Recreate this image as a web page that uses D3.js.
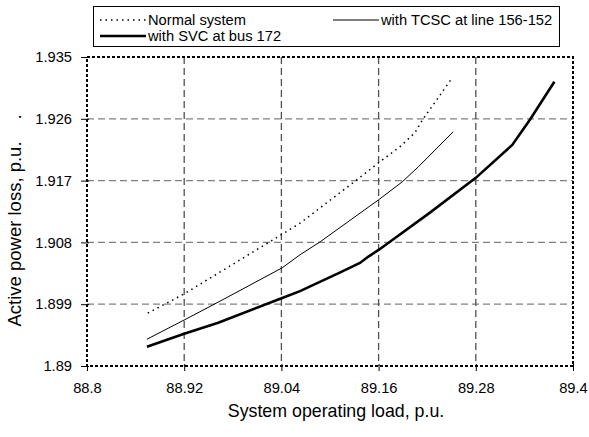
<!DOCTYPE html>
<html>
<head>
<meta charset="utf-8">
<script src="https://cdn.jsdelivr.net/npm/d3@7"></script>
<style>
  body { margin: 0; background: #fff; }
  svg { font-family: "Liberation Sans", Arial, sans-serif; }
</style>
</head>
<body>
<div id="chart"></div>
<script>
// tick labels
const xTicks = [88.8, 88.92, 89.04, 89.16, 89.28, 89.4];
const yTicks = [1.89, 1.899, 1.908, 1.917, 1.926, 1.935];

// Normal system
const loadNormal = [88.875, 88.92, 89.041, 89.063, 89.133, 89.16, 89.186, 89.205, 89.215, 89.232, 89.251];
const lossNormal = [1.8977, 1.9005, 1.9092, 1.9108, 1.9171, 1.9196, 1.9219, 1.9240, 1.9260, 1.9288, 1.9320];

// with TCSC at line 156-152
const loadTcsc = [88.874, 88.92, 88.962, 89.041, 89.063, 89.088, 89.16, 89.189, 89.209, 89.252];
const lossTcsc = [1.8939, 1.8967, 1.8993, 1.9043, 1.9062, 1.9081, 1.9142, 1.9168, 1.9190, 1.9241];

// with SVC at bus 172
const loadSvc = [88.874, 88.92, 88.962, 89.041, 89.063, 89.112, 89.137, 89.147, 89.16, 89.174, 89.223, 89.28, 89.325, 89.347, 89.377];
const lossSvc = [1.8928, 1.8947, 1.8963, 1.8999, 1.9009, 1.9036, 1.9050, 1.9059, 1.9069, 1.9081, 1.9123, 1.9174, 1.9222, 1.9259, 1.9314];

const width = 589, height = 437;
const plot = { left: 87, right: 573, top: 57, bottom: 366 };

const svg = d3.select('#chart').append('svg')
  .attr('width', width)
  .attr('height', height);

const x = d3.scaleLinear().domain([88.8, 89.4]).range([plot.left, plot.right]);
const y = d3.scaleLinear().domain([1.89, 1.935]).range([plot.bottom, plot.top]);

// grid lines
svg.append('g')
  .selectAll('line')
  .data(yTicks.slice(1, -1))
  .enter()
  .append('line')
  .attr('x1', plot.left).attr('x2', plot.right)
  .attr('y1', d => y(d)).attr('y2', d => y(d))
  .attr('stroke', '#808080')
  .attr('stroke-width', 1.3)
  .attr('stroke-dasharray', '7,4');

svg.append('g')
  .selectAll('line')
  .data(xTicks.slice(1, -1))
  .enter()
  .append('line')
  .attr('x1', d => x(d)).attr('x2', d => x(d))
  .attr('y1', plot.top).attr('y2', plot.bottom)
  .attr('stroke', '#505050')
  .attr('stroke-width', 1.3)
  .attr('stroke-dasharray', '7,4');

// plot frame (dotted)
svg.append('rect')
  .attr('x', plot.left).attr('y', plot.top)
  .attr('width', plot.right - plot.left)
  .attr('height', plot.bottom - plot.top)
  .attr('fill', 'none')
  .attr('stroke', '#000')
  .attr('stroke-width', 2)
  .attr('stroke-dasharray', '3,2');

// axes
const xAxis = svg.append('g')
  .attr('transform', `translate(0,${plot.bottom})`)
  .call(d3.axisBottom(x).tickValues(xTicks).tickFormat(d => String(d)).tickSize(5).tickPadding(12));
xAxis.select('.domain').remove();
xAxis.selectAll('.tick line').attr('y1', -2).attr('stroke', '#000');
xAxis.selectAll('text')
  .style('font-size', '14.7px')
  .style('font-family', '"Liberation Sans", Arial, sans-serif')
  .attr('fill', '#000');

const yAxis = svg.append('g')
  .attr('transform', `translate(${plot.left},0)`)
  .call(d3.axisLeft(y).tickValues(yTicks).tickFormat(d => String(d)).tickSize(6).tickPadding(9));
yAxis.select('.domain').remove();
yAxis.selectAll('.tick line').attr('x1', 2).attr('stroke', '#000');
yAxis.selectAll('text')
  .style('font-size', '14.7px')
  .style('font-family', '"Liberation Sans", Arial, sans-serif')
  .attr('fill', '#000');

// axis titles
svg.append('text')
  .attr('x', (plot.left + plot.right) / 2 + 6)
  .attr('y', 417)
  .attr('text-anchor', 'middle')
  .style('font-size', '17.8px')
  .text('System operating load, p.u.');

svg.append('text')
  .attr('transform', 'rotate(-90)')
  .attr('x', -234)
  .attr('y', 21)
  .attr('text-anchor', 'middle')
  .style('font-size', '18.5px')
  .text('Active power loss, p.u.');

svg.append('text')
  .attr('transform', 'rotate(-90)')
  .attr('x', -117)
  .attr('y', 21)
  .attr('text-anchor', 'middle')
  .style('font-size', '18.5px')
  .text('.');

// series
const series = [
  { name: 'Normal system', load: loadNormal, loss: lossNormal, width: 1.5, dash: '1.5,4' },
  { name: 'with TCSC at line 156-152', load: loadTcsc, loss: lossTcsc, width: 1, dash: null },
  { name: 'with SVC at bus 172', load: loadSvc, loss: lossSvc, width: 2.6, dash: null }
];

const line = d3.line()
  .x(d => x(d[0]))
  .y(d => y(d[1]));

series.forEach(s => {
  svg.append('path')
    .datum(s.load.map((v, i) => [v, s.loss[i]]))
    .attr('d', line)
    .attr('fill', 'none')
    .attr('stroke', '#000')
    .attr('stroke-width', s.width)
    .attr('stroke-dasharray', s.dash);
});

// legend
const legend = svg.append('g');
legend.append('rect')
  .attr('x', 93.5).attr('y', 6.5)
  .attr('width', 466).attr('height', 40)
  .attr('fill', '#fff')
  .attr('stroke', '#000')
  .attr('stroke-width', 1);

const legendPos = [
  { x: 100, y: 20 },
  { x: 333, y: 20 },
  { x: 100, y: 36 }
];

series.forEach((s, i) => {
  const p = legendPos[i];
  legend.append('line')
    .attr('x1', p.x).attr('x2', p.x + 46)
    .attr('y1', p.y).attr('y2', p.y)
    .attr('stroke', '#000')
    .attr('stroke-width', s.width)
    .attr('stroke-dasharray', s.dash);
  legend.append('text')
    .attr('x', p.x + 48)
    .attr('y', p.y + 5)
    .style('font-size', '14.7px')
    .text(s.name);
});
</script>
</body>
</html>
